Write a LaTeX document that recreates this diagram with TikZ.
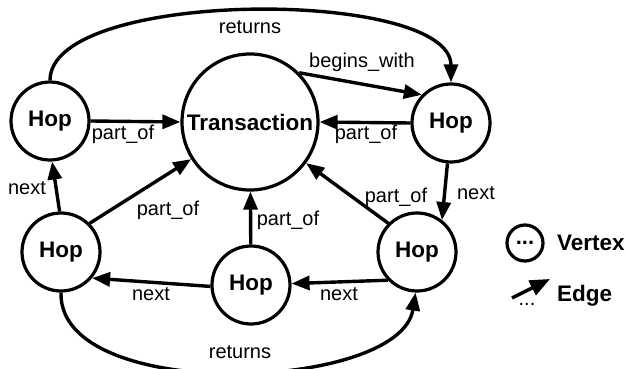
\documentclass[tikz,border=0pt]{standalone}
\usepackage{fontspec}
\setmainfont{Liberation Sans}
\usetikzlibrary{arrows.meta}
\begin{document}
\begin{tikzpicture}[x=1pt,y=-1pt,
  vertex/.style={circle,draw,line width=3.2pt,inner sep=0pt,minimum size=78pt,
    font=\fontsize{22.5}{24}\selectfont\bfseries},
  bigvertex/.style={vertex,minimum size=136pt},
  rel/.style={line width=3.4pt,-{Triangle[length=18pt,width=14pt]}},
  lbl/.style={font=\fontsize{20}{22}\selectfont,inner sep=0pt}]
\path[use as bounding box] (0,0) rectangle (627,369);

% vertices
\node[bigvertex] (T)  at (250,122) {Transaction};
\node[vertex]    (TL) at (50,121)  {Hop};
\node[vertex]    (TR) at (451,123) {Hop};
\node[vertex]    (BL) at (61,252)  {Hop};
\node[vertex]    (BM) at (251,285) {Hop};
\node[vertex]    (BR) at (417,252) {Hop};

% edges
\draw[rel] (TL.90) .. controls (50,-12) and (451,-12) .. (TR.90);
\node[lbl] (lret1) at (250,27) {returns};

\draw[rel] (T.45) -- (TR.136);
\node[lbl] (lbeg) at (362,62) {begins\_with};

\draw[rel] (TL.0) -- (T.180);
\node[lbl] (lp1) at (123,134) {part\_of};

\draw[rel] (TR.180) -- (T.0);
\node[lbl] (lp2) at (366,134) {part\_of};

\draw[rel] (TR.265) -- (BR.52);
\node[lbl] (ln1) at (476,193) {next};

\draw[rel] (BR.135) -- (T);
\node[lbl] (lp3) at (396,197) {part\_of};

\draw[rel] (BM) -- (T);
\node[lbl] (lp4) at (288,220) {part\_of};

\draw[rel] (BL.45) -- (T);
\node[lbl] (lp5) at (168,210) {part\_of};

\draw[rel] (BL.92) -- (TL.273);
\node[lbl] (ln2) at (27,188) {next};

\draw[rel] (BM.182) -- (BL.-40);
\node[lbl] (ln3) at (151,294) {next};

\draw[rel] (BR.224) -- (BM.2);
\node[lbl] (ln4) at (339,294) {next};

\draw[rel] (BL.270) .. controls (58,404) and (400,392) .. (BR.268);
\node[lbl] (lret2) at (240,352) {returns};

% legend
\node[circle,draw,line width=3.2pt,minimum size=36pt,inner sep=0pt,
  font=\fontsize{22}{24}\selectfont\bfseries] (lv) at (525,243) {...};
\node[font=\fontsize{22.5}{24}\selectfont\bfseries,anchor=west,inner sep=0pt]
  (lvt) at (557,243) {Vertex};
\coordinate (ea) at (512,298);
\coordinate (eb) at (550,279);
\draw[line width=3.4pt,-{Triangle[length=20pt,width=16pt]}] (ea) -- (eb);
\node[lbl] (edots) at (527,304) {...};
\node[font=\fontsize{22.5}{24}\selectfont\bfseries,anchor=west,inner sep=0pt]
  (let) at (557,296) {Edge};
\end{tikzpicture}
\end{document}
